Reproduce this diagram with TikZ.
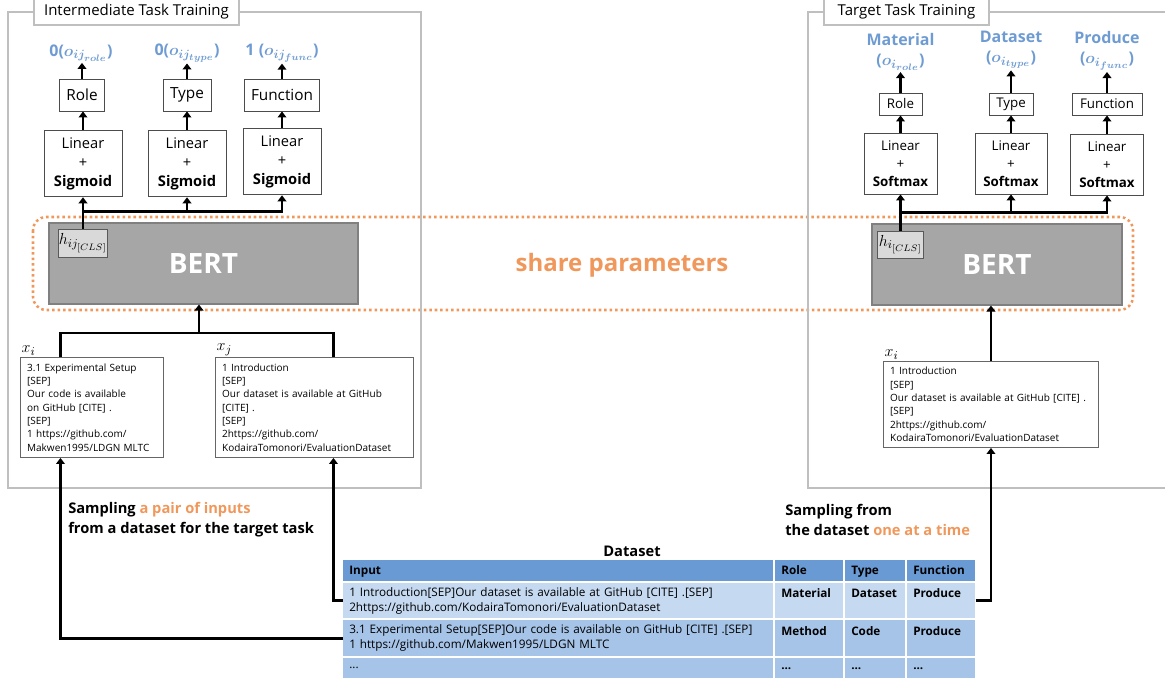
\documentclass[tikz,border=0pt]{standalone}
\usepackage{fontspec}
\setmainfont{Open Sans}
\usepackage{amsmath}
\usepackage{xcolor}
\usetikzlibrary{arrows.meta}
\DeclareMathSizes{12}{12}{9}{7}

\definecolor{framegray}{RGB}{191,191,191}
\definecolor{outblue}{RGB}{110,155,210}
\definecolor{shareorange}{RGB}{240,152,92}
\definecolor{bertgray}{RGB}{166,166,166}
\definecolor{clsgray}{RGB}{217,217,217}
\definecolor{headblue}{RGB}{106,154,212}
\definecolor{rowlight}{RGB}{197,217,241}
\definecolor{rowdark}{RGB}{166,196,232}

\tikzset{
  frame/.style={draw=framegray, line width=1.5pt},
  framelabel/.style={draw=framegray, fill=white, line width=1.2pt, minimum height=19.5pt, inner sep=0pt, font=\fontsize{11.25}{13}\selectfont},
  outlabel/.style={text=outblue, align=center, inner sep=1pt, font=\fontsize{12}{15}\selectfont\bfseries\boldmath},
  headbox/.style={draw=black!70, fill=white, line width=0.7pt, inner sep=0pt, font=\fontsize{11.5}{12}\selectfont},
  linbox/.style={draw=black!70, fill=white, line width=0.7pt, inner sep=0pt, align=center, font=\fontsize{11}{14.25}\selectfont},
  bertbox/.style={draw=black!50, fill=bertgray, line width=0.8pt, text=white, font=\fontsize{21}{21}\selectfont\bfseries},
  clsbox/.style={draw=black!65, fill=clsgray, line width=0.7pt, inner sep=0pt, font=\fontsize{12}{12}\selectfont},
  inbox/.style={draw=black!60, fill=white, line width=0.7pt, anchor=north west, align=left, inner xsep=5pt, inner ysep=0pt, font=\fontsize{7.5}{10}\selectfont},
  inlabel/.style={anchor=south west, inner sep=1pt, font=\fontsize{12}{12}\selectfont},
  conn/.style={draw=black, line width=2pt},
  samplelabel/.style={anchor=west, inner sep=0pt, align=left, font=\fontsize{11}{15}\selectfont\bfseries},
  % table cells
  cell/.style={anchor=north west, inner xsep=4.5pt, inner ysep=0pt, align=left, font=\fontsize{8.8}{11.25}\selectfont},
  cellb/.style={cell, font=\fontsize{8.8}{11.25}\selectfont\bfseries},
  colinput/.style={text width=313.5pt},
  colrole/.style={text width=42pt},
  coltype/.style={text width=36pt},
  colfunc/.style={text width=42pt},
  rowhead/.style={fill=headblue, minimum height=15.75pt, text height=6.8pt, text depth=1.8pt},
  rowone/.style={fill=rowlight, minimum height=26.25pt},
  rowtwo/.style={fill=rowdark, minimum height=27pt},
  rowthree/.style={fill=rowdark, minimum height=15pt},
}

\begin{document}
\begin{tikzpicture}[x=0.75pt, y=-0.75pt, >={Triangle[length=4.5pt,width=6.5pt]}]
\useasboundingbox (0,0) rectangle (1165,681);

% Shared parameters
\draw[shareorange, line width=1.9pt, dash pattern=on 1.9pt off 2.2pt, rounded corners=10pt] (33,217) rectangle (1133,310);
\node[text=shareorange, font=\fontsize{18}{18}\selectfont\bfseries] (share) at (622,265) {share parameters};

% Frames
\draw[frame] (8,12) rectangle (421,488);
\draw[frame] (808,12) rectangle (1180,488);
\node[framelabel, minimum width=153.75pt] (interlabel) at (136.5,12) {Intermediate Task Training};
\node[framelabel, minimum width=123.75pt] (targetlabel) at (906.5,12) {Target Task Training};

% Intermediate task training
\node[outlabel] (oirole) at (81,53) {0($o_{ij_{role}}$)};
\node[outlabel] (oitype) at (187,53) {0($o_{ij_{type}}$)};
\node[outlabel] (oifunc) at (282,53) {1 ($o_{ij_{func}}$)};

\node[headbox, minimum width=33.75pt, minimum height=24pt] (irole) at (82,95) {Role};
\node[headbox, minimum width=36pt, minimum height=24pt] (itype) at (187,95) {Type};
\node[headbox, minimum width=56.25pt, minimum height=24pt] (ifunc) at (282,95) {Function};

\node[linbox, minimum width=58.5pt, minimum height=50pt] (ilinrole) at (83,163.5) {Linear\\+\\\textbf{Sigmoid}};
\node[linbox, minimum width=58.5pt, minimum height=50pt] (ilintype) at (187,163.5) {Linear\\+\\\textbf{Sigmoid}};
\node[linbox, minimum width=58.5pt, minimum height=50pt] (ilinfunc) at (282,161.5) {Linear\\+\\\textbf{Sigmoid}};

\node[bertbox, minimum width=231.75pt, minimum height=60.75pt] (bertL) at (203.5,263.5) {BERT};
\node[clsbox, minimum width=36pt, minimum height=21pt] (clsL) at (83,243) {$h_{ij_{[CLS]}}$};

\node[inbox, text width=97.25pt, minimum height=75pt] (xi) at (20,357) {3.1 Experimental Setup\\{}[SEP]\\Our code is available\\on GitHub [CITE] .\\{}[SEP]\\1 https://github.com/\\Makwen1995/LDGN MLTC};
\node[inbox, text width=138.5pt, minimum height=75pt] (xj) at (215,357) {1 Introduction\\{}[SEP]\\Our dataset is available at GitHub\\{}[CITE] .\\{}[SEP]\\2https://github.com/\\KodairaTomonori/EvaluationDataset};
\node[inlabel] (labxi) at (xi.north west) {$x_i$};
\node[inlabel] (labxj) at (xj.north west) {$x_j$};

\draw[conn, ->] (ilinrole.north) -- (ilinrole.north |- irole.south);
\draw[conn, ->] (ilintype.north) -- (ilintype.north |- itype.south);
\draw[conn, ->] (ilinfunc.north) -- (ilinfunc.north |- ifunc.south);
\draw[conn, ->] (irole.north) -- (irole.north |- oirole.south);
\draw[conn, ->] (itype.north) -- (itype.north |- oitype.south);
\draw[conn, ->] (ifunc.north) -- (ifunc.north |- oifunc.south);
\draw[conn] (clsL.north) -- ++(0,-17) coordinate (busL);
\draw[conn, ->] (busL) -- (ilinrole.south);
\draw[conn, ->] (busL) -| (ilintype.south);
\draw[conn, ->] (busL) -| (ilinfunc.south);
\draw[conn] ([xshift=-23.625pt]xi.north) -- ++(0,-24) -| ([xshift=14.25pt]xj.north);
\coordinate (joinL) at (199,333);
\draw[conn, ->] (joinL) -- (joinL |- bertL.south);

% Target task training
\node[outlabel] (otrole) at (900.5,52) {Material\\($o_{i_{role}}$)};
\node[outlabel] (ottype) at (1011,50) {Dataset\\($o_{i_{type}}$)};
\node[outlabel] (otfunc) at (1107,51) {Produce\\($o_{i_{func}}$)};

\node[headbox, minimum width=32.25pt, minimum height=16.5pt, font=\fontsize{10}{10}\selectfont] (trole) at (900.5,104) {Role};
\node[headbox, minimum width=33pt, minimum height=16.5pt, font=\fontsize{10}{10}\selectfont] (ttype) at (1011,104) {Type};
\node[headbox, minimum width=52.5pt, minimum height=16.5pt, font=\fontsize{10}{10}\selectfont] (tfunc) at (1107,104) {Function};

\node[linbox, minimum width=54.75pt, minimum height=45.75pt, font=\fontsize{10}{13.5}\selectfont] (tlinrole) at (900.5,163.5) {Linear\\+\\\textbf{Softmax}};
\node[linbox, minimum width=54pt, minimum height=45.75pt, font=\fontsize{10}{13.5}\selectfont] (tlintype) at (1011,163.5) {Linear\\+\\\textbf{Softmax}};
\node[linbox, minimum width=54.75pt, minimum height=45.75pt, font=\fontsize{10}{13.5}\selectfont] (tlinfunc) at (1107,164.5) {Linear\\+\\\textbf{Softmax}};

\node[bertbox, minimum width=187.5pt, minimum height=60.75pt] (bertR) at (997,264.5) {BERT};
\node[clsbox, minimum width=34.5pt, minimum height=20.25pt] (clsR) at (900.5,244.5) {$h_{i_{[CLS]}}$};

\node[inbox, text width=151.25pt, minimum height=64.5pt] (xt) at (883,361) {1 Introduction\\{}[SEP]\\Our dataset is available at GitHub [CITE] .\\{}[SEP]\\2https://github.com/\\KodairaTomonori/EvaluationDataset};
\node[inlabel] (labxt) at (xt.north west) {$x_i$};

\draw[conn, ->] (tlinrole.north) -- (tlinrole.north |- trole.south);
\draw[conn, ->] (tlintype.north) -- (tlintype.north |- ttype.south);
\draw[conn, ->] (tlinfunc.north) -- (tlinfunc.north |- tfunc.south);
\draw[conn, ->] (trole.north) -- (trole.north |- otrole.south);
\draw[conn, ->] (ttype.north) -- (ttype.north |- ottype.south);
\draw[conn, ->] (tfunc.north) -- (tfunc.north |- otfunc.south);
\draw[conn] (clsR.north) -- ++(0,-18) coordinate (busR);
\draw[conn, ->] (busR) -- (tlinrole.south);
\draw[conn, ->] (busR) -| (tlintype.south);
\draw[conn, ->] (busR) -| (tlinfunc.south);
\draw[conn, ->] (xt.north) -- (xt.north |- bertR.south);

% Dataset
\node[font=\fontsize{11}{11}\selectfont\bfseries] (dstitle) at (632,551) {Dataset};
\node[cellb, colinput, rowhead] (hinput) at (343,560) {Input};
\node[cellb, colrole, rowhead] (hrole) at (775,560) {Role};
\node[cellb, coltype, rowhead] (htype) at (845,560) {Type};
\node[cellb, colfunc, rowhead] (hfunc) at (907,560) {Function};

\node[cell, colinput, rowone] (r1input) at (343,583) {1 Introduction[SEP]Our dataset is available at GitHub [CITE] .[SEP]\\2https://github.com/KodairaTomonori/EvaluationDataset};
\node[cellb, colrole, rowone] (r1role) at (775,583) {Material\\~};
\node[cellb, coltype, rowone] (r1type) at (845,583) {Dataset\\~};
\node[cellb, colfunc, rowone] (r1func) at (907,583) {Produce\\~};

\node[cell, colinput, rowtwo] (r2input) at (343,620) {3.1 Experimental Setup[SEP]Our code is available on GitHub [CITE] .[SEP]\\1 https://github.com/Makwen1995/LDGN MLTC};
\node[cellb, colrole, rowtwo] (r2role) at (775,620) {Method\\~};
\node[cellb, coltype, rowtwo] (r2type) at (845,620) {Code\\~};
\node[cellb, colfunc, rowtwo] (r2func) at (907,620) {Produce\\~};

\node[cell, colinput, rowthree] (r3input) at (343,658) {...};
\node[cellb, colrole, rowthree] (r3role) at (775,658) {...};
\node[cellb, coltype, rowthree] (r3type) at (845,658) {...};
\node[cellb, colfunc, rowthree] (r3func) at (907,658) {...};

% Sampling
\node[samplelabel] (samplepair) at (68,520) {Sampling \textcolor{shareorange}{a pair of inputs}\\from a dataset for the target task};
\node[samplelabel] (sampleone) at (785,520) {Sampling from\\the dataset \textcolor{shareorange}{one at a time}};
\draw[conn, ->] (r1input.west) -| ([xshift=14.25pt]xj.south);
\draw[conn, ->] (r2input.west) -| ([xshift=-23.625pt]xi.south);
\draw[conn, ->] (r1func.east) -| (xt.south);

\end{tikzpicture}
\end{document}
